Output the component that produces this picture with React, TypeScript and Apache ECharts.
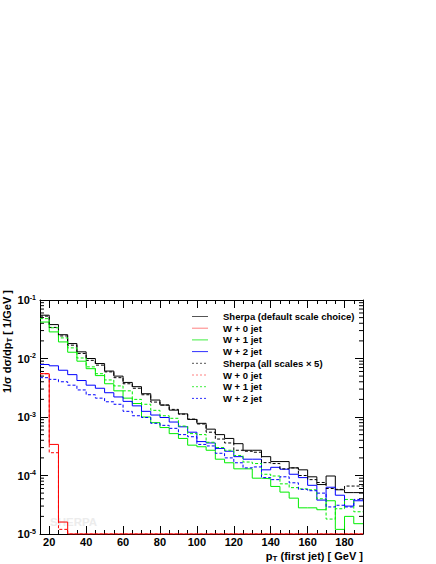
import React, { useEffect, useRef } from "react";
import * as echarts from "echarts";

// ---- data (bin lower edges in GeV, last bin closes at X_MAX) ----
const binEdges = [15, 20, 25, 30, 35, 40, 45, 50, 55, 60, 65, 70, 75, 80, 85, 90, 95, 100, 105, 110, 115, 120, 125, 130, 135, 140, 145, 150, 155, 160, 165, 170, 175, 180, 185];
const X_MIN = 15;
const X_MAX = 190;

// Sherpa (default scale choice)
const sherpaDefault = [0.055, 0.038, 0.0255, 0.018, 0.013, 0.01, 0.0082, 0.0061, 0.005, 0.0039, 0.0033, 0.0025, 0.00195, 0.0016, 0.00131, 0.00113, 0.00091, 0.00078, 0.00062, 0.0005, 0.00043, 0.00035, 0.00027, 0.00027, 0.00021, 0.000173, 0.000173, 0.000135, 0.000125, 0.000095, 0.00007, 0.000098, 0.000057, 0.000051, 0.000051];
const w0Default = [0.0055, 0.00034, 0.000016, 0.00001, 0.00001, 0.00001, 0.00001, 0.00001, 0.00001, 0.00001, 0.00001, 0.00001, 0.00001, 0.00001, 0.00001, 0.00001, 0.00001, 0.00001, 0.00001, 0.00001, 0.00001, 0.00001, 0.00001, 0.00001, 0.00001, 0.00001, 0.00001, 0.00001, 0.00001, 0.00001, 0.00001, 0.00001, 0.00001, 0.00001, 0.00001];
const w1Default = [0.042, 0.0285, 0.0192, 0.0128, 0.009, 0.0067, 0.0051, 0.0037, 0.0028, 0.0021, 0.0017, 0.001, 0.0008, 0.00066, 0.00052, 0.00043, 0.00033, 0.00031, 0.00027, 0.00019, 0.000165, 0.00013, 0.00013, 0.00009, 0.000088, 0.000065, 0.000052, 0.000041, 0.000028, 0.000028, 0.000026, 0.000037, 0.000012, 0.00002, 0.000015];
const w2Default = [0.0079, 0.0075, 0.0063, 0.0053, 0.0042, 0.0035, 0.0031, 0.0026, 0.0022, 0.00185, 0.00155, 0.00125, 0.00108, 0.00098, 0.00082, 0.00068, 0.00055, 0.00038, 0.00036, 0.00029, 0.00026, 0.00021, 0.00019, 0.00019, 0.000125, 0.000138, 0.000128, 0.000105, 0.000092, 0.000068, 0.000038, 0.000063, 0.000046, 0.00003, 0.000037];

// Sherpa (all scales x 5)
const sherpaScaled = [0.053, 0.034, 0.0243, 0.0169, 0.0122, 0.0093, 0.0077, 0.0059, 0.0047, 0.0037, 0.0031, 0.0024, 0.0018, 0.0016, 0.00135, 0.00112, 0.00092, 0.00076, 0.00055, 0.00042, 0.00036, 0.00027, 0.00026, 0.00025, 0.000166, 0.00016, 0.00013, 0.000135, 0.0001, 0.000085, 0.000076, 0.00006, 0.000058, 0.000066, 0.000066];
const w0Scaled = [0.0055, 0.000245, 0.000012, 0.00001, 0.00001, 0.00001, 0.00001, 0.00001, 0.00001, 0.00001, 0.00001, 0.00001, 0.00001, 0.00001, 0.00001, 0.00001, 0.00001, 0.00001, 0.00001, 0.00001, 0.00001, 0.00001, 0.00001, 0.00001, 0.00001, 0.00001, 0.00001, 0.00001, 0.00001, 0.00001, 0.00001, 0.00001, 0.00001, 0.00001, 0.00001];
const w1Scaled = [0.048, 0.0335, 0.0225, 0.0152, 0.0102, 0.0072, 0.0055, 0.0043, 0.0034, 0.0028, 0.002, 0.00165, 0.0013, 0.00105, 0.00095, 0.0007, 0.00052, 0.0005, 0.00037, 0.0003, 0.00027, 0.00022, 0.00017, 0.00016, 0.000105, 0.000098, 0.000072, 0.000062, 0.000059, 0.000057, 0.00004, 0.000018, 0.000027, 0.000039, 0.000024];
const w2Scaled = [0.0047, 0.0044, 0.004, 0.0035, 0.0029, 0.0024, 0.0021, 0.00182, 0.00165, 0.00125, 0.00105, 0.00098, 0.00078, 0.00072, 0.00064, 0.0005, 0.00046, 0.00034, 0.00032, 0.00024, 0.0002, 0.000165, 0.000135, 0.00014, 0.000092, 0.000085, 0.000095, 0.000075, 0.000058, 0.000055, 0.00005, 0.000029, 0.000031, 0.000029, 0.000039];

const legendLabels = [
  "Sherpa (default scale choice)",
  "W + 0 jet",
  "W + 1 jet",
  "W + 2 jet",
  "Sherpa (all scales \u00d7 5)",
  "W + 0 jet",
  "W + 1 jet",
  "W + 2 jet",
];

const decades = [1e-5, 1e-4, 1e-3, 1e-2];
const minorMultipliers = [2, 3, 4, 5, 6, 7, 8, 9];

const FONT = "'Liberation Sans', Arial, Helvetica, sans-serif";
const BLACK = "#000000";
const RED = "#ff0000";
const GREEN = "#00ee00";
const BLUE = "#0000ff";

const seriesDefs = [
  { data: sherpaDefault, color: BLACK, dashed: false },
  { data: w0Default, color: RED, dashed: false },
  { data: w1Default, color: GREEN, dashed: false },
  { data: w2Default, color: BLUE, dashed: false },
  { data: sherpaScaled, color: BLACK, dashed: true },
  { data: w0Scaled, color: RED, dashed: true },
  { data: w1Scaled, color: GREEN, dashed: true },
  { data: w2Scaled, color: BLUE, dashed: true },
];

const legendColors = ["#555555", "#ff8080", "#40ee40", "#3030ff", "#555555", "#ff8080", "#40ee40", "#3030ff"];

function hist(vals: number[]) {
  const pts: number[][] = binEdges.map((e, i) => [e, vals[i]]);
  pts.push([X_MAX, vals[vals.length - 1]]);
  return pts;
}

export default function App() {
  const ref = useRef<HTMLDivElement>(null);
  useEffect(() => {
    document.body.style.margin = "0";
    const chart = echarts.init(ref.current!, null, { renderer: "svg" });

    const minorVals: number[][] = [];
    decades.forEach((d) => minorMultipliers.forEach((m) => minorVals.push([X_MIN, d * m])));

    const xMajor = (pos: string, labels: boolean) => ({
      type: "value",
      position: pos,
      min: X_MIN,
      max: X_MAX,
      minInterval: 20,
      maxInterval: 20,
      axisLine: { show: true, onZero: false, lineStyle: { color: BLACK, width: 1 } },
      axisTick: { show: true, inside: true, length: 8, lineStyle: { color: BLACK, width: 1 } },
      axisLabel: {
        show: labels,
        color: BLACK,
        fontSize: 11,
        fontWeight: "bold",
        fontFamily: FONT,
        margin: 2,
        showMinLabel: false,
        showMaxLabel: false,
      },
      splitLine: { show: false },
    });
    const xMinor = (pos: string) => ({
      type: "value",
      position: pos,
      min: X_MIN,
      max: X_MAX,
      interval: 5,
      axisLine: { show: false, onZero: false },
      axisTick: { show: true, inside: true, length: 4, lineStyle: { color: BLACK, width: 1 } },
      axisLabel: { show: false },
      splitLine: { show: false },
    });
    const yLog = (pos: string, labels: boolean) => ({
      type: "log",
      logBase: 10,
      position: pos,
      min: 1e-5,
      max: 0.1,
      axisLine: { show: true, lineStyle: { color: BLACK, width: 1 } },
      axisTick: { show: true, inside: true, length: 8, lineStyle: { color: BLACK, width: 1 } },
      axisLabel: {
        show: labels,
        margin: 4,
        formatter: (v: number) => `{b|10}{s|${Math.round(Math.log10(v))}}`,
        rich: {
          b: { fontSize: 11, fontWeight: "bold", fontFamily: FONT, color: BLACK },
          s: { fontSize: 7, fontWeight: "bold", fontFamily: FONT, color: BLACK, padding: [0, 0, 6, 0] },
        },
      },
      splitLine: { show: false },
    });

    const lineSeries = seriesDefs.map((s) => ({
      type: "line",
      xAxisIndex: 0,
      yAxisIndex: 0,
      step: "end",
      symbol: "none",
      silent: true,
      data: hist(s.data),
      lineStyle: { color: s.color, width: 1, type: s.dashed ? [3, 2] : "solid" },
    }));

    const legendChildren: any[] = [];
    legendLabels.forEach((lab, i) => {
      const y = 316.5 + i * 11.7;
      legendChildren.push({
        type: "line",
        shape: { x1: 192, y1: y, x2: 208, y2: y },
        style: { stroke: legendColors[i], lineWidth: 1, lineDash: i >= 4 ? [2, 2] : null },
      });
      legendChildren.push({
        type: "text",
        x: 223,
        y: y,
        style: {
          text: lab,
          fill: BLACK,
          font: `bold 9.5px ${FONT}`,
          verticalAlign: "middle",
          align: "left",
        },
      });
    });

    const option: any = {
      animation: false,
      backgroundColor: "#ffffff",
      grid: { left: 40, top: 300, width: 323, height: 234, show: false, containLabel: false },
      xAxis: [xMajor("bottom", true), xMinor("bottom"), xMajor("top", false), xMinor("top")],
      yAxis: [yLog("left", true), yLog("right", false)],
      series: [
        ...lineSeries,
        {
          type: "custom",
          xAxisIndex: 0,
          yAxisIndex: 0,
          silent: true,
          data: minorVals,
          renderItem: (params: any, api: any) => {
            const v = api.value(1);
            const p0 = api.coord([X_MIN, v]);
            const p1 = api.coord([X_MAX, v]);
            return {
              type: "group",
              children: [
                { type: "line", shape: { x1: p0[0], y1: p0[1], x2: p0[0] + 4, y2: p0[1] }, style: { stroke: BLACK, lineWidth: 1 } },
                { type: "line", shape: { x1: p1[0] - 4, y1: p1[1], x2: p1[0], y2: p1[1] }, style: { stroke: BLACK, lineWidth: 1 } },
              ],
            };
          },
        },
      ],
      graphic: [
        {
          type: "text",
          x: 50,
          y: 522,
          z: 0,
          style: { text: "SHERPA", fill: "#ececec", font: `bold 11.5px ${FONT}`, verticalAlign: "middle" },
        },
        { type: "group", children: legendChildren },
        {
          type: "text",
          x: 363,
          y: 556,
          style: {
            text: "p{sub|T} (first jet) [ GeV ]",
            fill: BLACK,
            font: `bold 11px ${FONT}`,
            align: "right",
            verticalAlign: "middle",
            rich: {
              sub: { fontSize: 8, fontWeight: "bold", fontFamily: FONT, fill: BLACK, padding: [5, 0, 0, 0] },
            },
          },
        },
        {
          type: "text",
          x: 7,
          y: 290,
          rotation: Math.PI / 2,
          style: {
            text: "1/\u03c3 d\u03c3/dp{sub|T} [ 1/GeV ]",
            fill: BLACK,
            font: `bold 11px ${FONT}`,
            align: "right",
            verticalAlign: "middle",
            rich: {
              sub: { fontSize: 8, fontWeight: "bold", fontFamily: FONT, fill: BLACK, padding: [5, 0, 0, 0] },
            },
          },
        },
      ],
    };
    chart.setOption(option);
    return () => chart.dispose();
  }, []);
  return <div ref={ref} style={{ width: 436, height: 564 }} />;
}
